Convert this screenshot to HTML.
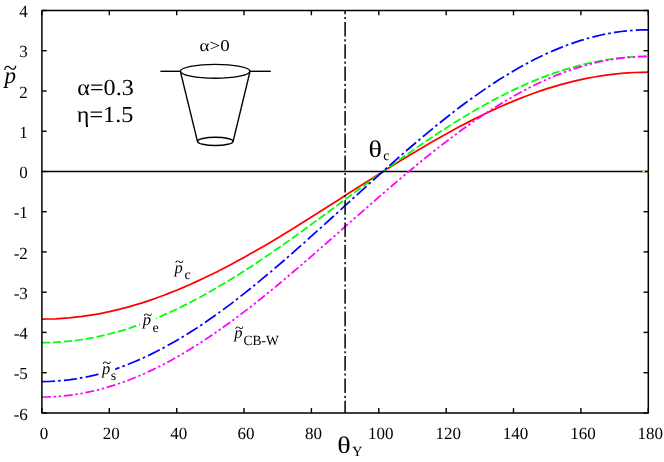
<!DOCTYPE html>
<html><head><meta charset="utf-8">
<style>
html,body{margin:0;padding:0;background:#fff;}
svg{display:block;font-family:"Liberation Serif",serif;}
text{text-rendering:geometricPrecision;}
svg{will-change:transform;}
</style></head><body>
<svg width="664" height="462" viewBox="0 0 664 462">
<!-- curves -->
<g fill="none" stroke-width="1.75">
<path d="M41.9,319.1 L48.6,319.0 L55.4,318.8 L62.1,318.4 L68.9,317.9 L75.6,317.2 L82.3,316.4 L89.1,315.4 L95.8,314.3 L102.5,313.1 L109.3,311.7 L116.0,310.1 L122.8,308.4 L129.5,306.6 L136.2,304.6 L143.0,302.6 L149.7,300.3 L156.4,298.0 L163.2,295.5 L169.9,292.9 L176.7,290.2 L183.4,287.4 L190.1,284.5 L196.9,281.4 L203.6,278.3 L210.3,275.0 L217.1,271.7 L223.8,268.2 L230.6,264.7 L237.3,261.1 L244.0,257.4 L250.8,253.6 L257.5,249.8 L264.2,245.9 L271.0,241.9 L277.7,237.9 L284.5,233.8 L291.2,229.7 L297.9,225.5 L304.7,221.3 L311.4,217.1 L318.1,212.8 L324.9,208.5 L331.6,204.3 L338.4,200.0 L345.1,195.6 L351.8,191.3 L358.6,187.0 L365.3,182.7 L372.1,178.5 L378.8,174.2 L385.5,170.0 L392.3,165.8 L399.0,161.6 L405.7,157.5 L412.5,153.4 L419.2,149.4 L426.0,145.4 L432.7,141.5 L439.4,137.7 L446.2,133.9 L452.9,130.2 L459.6,126.6 L466.4,123.1 L473.1,119.6 L479.9,116.3 L486.6,113.0 L493.3,109.9 L500.1,106.8 L506.8,103.9 L513.5,101.1 L520.3,98.4 L527.0,95.8 L533.8,93.3 L540.5,90.9 L547.2,88.7 L554.0,86.6 L560.7,84.7 L567.4,82.9 L574.2,81.2 L580.9,79.6 L587.7,78.2 L594.4,77.0 L601.1,75.9 L607.9,74.9 L614.6,74.1 L621.3,73.4 L628.1,72.9 L634.8,72.5 L641.6,72.3 L648.3,72.2" stroke="#ff0000"/>
<path d="M41.9,342.6 L48.6,342.6 L55.4,342.3 L62.1,341.9 L68.9,341.2 L75.6,340.5 L82.3,339.5 L89.1,338.4 L95.8,337.1 L102.5,335.6 L109.3,334.0 L116.0,332.2 L122.8,330.3 L129.5,328.2 L136.2,325.9 L143.0,323.5 L149.7,320.9 L156.4,318.2 L163.2,315.3 L169.9,312.3 L176.7,309.2 L183.4,305.9 L190.1,302.5 L196.9,298.9 L203.6,295.3 L210.3,291.5 L217.1,287.6 L223.8,283.6 L230.6,279.6 L237.3,275.4 L244.0,271.1 L250.8,266.7 L257.5,262.3 L264.2,257.7 L271.0,253.1 L277.7,248.5 L284.5,243.8 L291.2,239.0 L297.9,234.1 L304.7,229.3 L311.4,224.4 L318.1,219.4 L324.9,214.5 L331.6,209.5 L338.4,204.5 L345.1,199.5 L351.8,194.5 L358.6,189.5 L365.3,184.6 L372.1,179.6 L378.8,174.7 L385.5,169.8 L392.3,164.9 L399.0,160.1 L405.7,155.3 L412.5,150.6 L419.2,145.9 L426.0,141.3 L432.7,136.8 L439.4,132.3 L446.2,128.0 L452.9,123.7 L459.6,119.5 L466.4,115.4 L473.1,111.4 L479.9,107.5 L486.6,103.8 L493.3,100.1 L500.1,96.6 L506.8,93.2 L513.5,89.9 L520.3,86.8 L527.0,83.7 L533.8,80.9 L540.5,78.2 L547.2,75.6 L554.0,73.2 L560.7,70.9 L567.4,68.8 L574.2,66.8 L580.9,65.0 L587.7,63.4 L594.4,62.0 L601.1,60.7 L607.9,59.5 L614.6,58.6 L621.3,57.8 L628.1,57.2 L634.8,56.8 L641.6,56.5 L648.3,56.4" stroke="#00ff00" stroke-dasharray="8.15 2.87"/>
<path d="M41.9,381.6 L48.6,381.5 L55.4,381.2 L62.1,380.6 L68.9,379.9 L75.6,378.9 L82.3,377.7 L89.1,376.4 L95.8,374.8 L102.5,373.0 L109.3,371.0 L116.0,368.8 L122.8,366.4 L129.5,363.8 L136.2,361.0 L143.0,358.0 L149.7,354.9 L156.4,351.5 L163.2,348.0 L169.9,344.3 L176.7,340.4 L183.4,336.4 L190.1,332.2 L196.9,327.9 L203.6,323.4 L210.3,318.8 L217.1,314.0 L223.8,309.1 L230.6,304.1 L237.3,298.9 L244.0,293.6 L250.8,288.3 L257.5,282.8 L264.2,277.2 L271.0,271.6 L277.7,265.8 L284.5,260.0 L291.2,254.2 L297.9,248.2 L304.7,242.3 L311.4,236.2 L318.1,230.2 L324.9,224.1 L331.6,218.0 L338.4,211.8 L345.1,205.7 L351.8,199.5 L358.6,193.4 L365.3,187.3 L372.1,181.2 L378.8,175.1 L385.5,169.1 L392.3,163.1 L399.0,157.2 L405.7,151.3 L412.5,145.5 L419.2,139.8 L426.0,134.1 L432.7,128.6 L439.4,123.1 L446.2,117.7 L452.9,112.5 L459.6,107.3 L466.4,102.3 L473.1,97.4 L479.9,92.6 L486.6,88.0 L493.3,83.5 L500.1,79.1 L506.8,75.0 L513.5,70.9 L520.3,67.1 L527.0,63.4 L533.8,59.8 L540.5,56.5 L547.2,53.3 L554.0,50.4 L560.7,47.6 L567.4,45.0 L574.2,42.6 L580.9,40.4 L587.7,38.4 L594.4,36.6 L601.1,35.0 L607.9,33.6 L614.6,32.4 L621.3,31.5 L628.1,30.7 L634.8,30.2 L641.6,29.9 L648.3,29.8" stroke="#0000ff" stroke-dasharray="13.1 3.1 2.6 3.23"/>
</g>
<!-- zero line -->
<line x1="41.9" y1="171.5" x2="648.3" y2="171.5" stroke="#000" stroke-width="1.3"/>
<path d="M41.9,397.0 L48.6,396.9 L55.4,396.6 L62.1,396.1 L68.9,395.3 L75.6,394.4 L82.3,393.3 L89.1,391.9 L95.8,390.4 L102.5,388.7 L109.3,386.7 L116.0,384.6 L122.8,382.3 L129.5,379.8 L136.2,377.1 L143.0,374.2 L149.7,371.1 L156.4,367.9 L163.2,364.5 L169.9,360.9 L176.7,357.2 L183.4,353.3 L190.1,349.2 L196.9,345.0 L203.6,340.7 L210.3,336.2 L217.1,331.6 L223.8,326.8 L230.6,321.9 L237.3,317.0 L244.0,311.9 L250.8,306.7 L257.5,301.4 L264.2,296.0 L271.0,290.5 L277.7,285.0 L284.5,279.3 L291.2,273.6 L297.9,267.9 L304.7,262.1 L311.4,256.3 L318.1,250.4 L324.9,244.5 L331.6,238.6 L338.4,232.7 L345.1,226.7 L351.8,220.8 L358.6,214.8 L365.3,208.9 L372.1,203.0 L378.8,197.1 L385.5,191.3 L392.3,185.5 L399.0,179.8 L405.7,174.1 L412.5,168.5 L419.2,162.9 L426.0,157.4 L432.7,152.1 L439.4,146.8 L446.2,141.6 L452.9,136.5 L459.6,131.5 L466.4,126.6 L473.1,121.9 L479.9,117.2 L486.6,112.8 L493.3,108.4 L500.1,104.2 L506.8,100.2 L513.5,96.3 L520.3,92.5 L527.0,88.9 L533.8,85.5 L540.5,82.3 L547.2,79.2 L554.0,76.3 L560.7,73.6 L567.4,71.1 L574.2,68.8 L580.9,66.7 L587.7,64.7 L594.4,63.0 L601.1,61.5 L607.9,60.1 L614.6,59.0 L621.3,58.1 L628.1,57.3 L634.8,56.8 L641.6,56.5 L648.3,56.4" stroke="#ff00ff" fill="none" stroke-width="1.75" stroke-dasharray="9.0 2.7 2.4 2.7 2.4 2.7"/>
<line x1="345.1" y1="10.5" x2="345.1" y2="412.9" stroke="#000" stroke-width="1.5" stroke-dasharray="14.6 2.8 2.1 2.78" stroke-dashoffset="10.88"/>
<!-- axes -->
<g stroke="#000" stroke-width="1.5" fill="none" stroke-linejoin="round">
<rect x="41.9" y="10.5" width="606.4" height="402.4"/>
</g>
<g stroke="#000" stroke-width="1.4">
<line x1="41.9" y1="10.5" x2="46.7" y2="10.5"/>
<line x1="648.3" y1="10.5" x2="643.5" y2="10.5"/>
<line x1="41.9" y1="50.7" x2="46.7" y2="50.7"/>
<line x1="648.3" y1="50.7" x2="643.5" y2="50.7"/>
<line x1="41.9" y1="91.0" x2="46.7" y2="91.0"/>
<line x1="648.3" y1="91.0" x2="643.5" y2="91.0"/>
<line x1="41.9" y1="131.2" x2="46.7" y2="131.2"/>
<line x1="648.3" y1="131.2" x2="643.5" y2="131.2"/>
<line x1="41.9" y1="171.5" x2="46.7" y2="171.5"/>
<line x1="648.3" y1="171.5" x2="643.5" y2="171.5"/>
<line x1="41.9" y1="211.7" x2="46.7" y2="211.7"/>
<line x1="648.3" y1="211.7" x2="643.5" y2="211.7"/>
<line x1="41.9" y1="251.9" x2="46.7" y2="251.9"/>
<line x1="648.3" y1="251.9" x2="643.5" y2="251.9"/>
<line x1="41.9" y1="292.2" x2="46.7" y2="292.2"/>
<line x1="648.3" y1="292.2" x2="643.5" y2="292.2"/>
<line x1="41.9" y1="332.4" x2="46.7" y2="332.4"/>
<line x1="648.3" y1="332.4" x2="643.5" y2="332.4"/>
<line x1="41.9" y1="372.7" x2="46.7" y2="372.7"/>
<line x1="648.3" y1="372.7" x2="643.5" y2="372.7"/>
<line x1="41.9" y1="412.9" x2="46.7" y2="412.9"/>
<line x1="648.3" y1="412.9" x2="643.5" y2="412.9"/>
<line x1="41.9" y1="412.9" x2="41.9" y2="408.1"/>
<line x1="41.9" y1="10.5" x2="41.9" y2="15.3"/>
<line x1="109.3" y1="412.9" x2="109.3" y2="408.1"/>
<line x1="109.3" y1="10.5" x2="109.3" y2="15.3"/>
<line x1="176.7" y1="412.9" x2="176.7" y2="408.1"/>
<line x1="176.7" y1="10.5" x2="176.7" y2="15.3"/>
<line x1="244.0" y1="412.9" x2="244.0" y2="408.1"/>
<line x1="244.0" y1="10.5" x2="244.0" y2="15.3"/>
<line x1="311.4" y1="412.9" x2="311.4" y2="408.1"/>
<line x1="311.4" y1="10.5" x2="311.4" y2="15.3"/>
<line x1="378.8" y1="412.9" x2="378.8" y2="408.1"/>
<line x1="378.8" y1="10.5" x2="378.8" y2="15.3"/>
<line x1="446.2" y1="412.9" x2="446.2" y2="408.1"/>
<line x1="446.2" y1="10.5" x2="446.2" y2="15.3"/>
<line x1="513.5" y1="412.9" x2="513.5" y2="408.1"/>
<line x1="513.5" y1="10.5" x2="513.5" y2="15.3"/>
<line x1="580.9" y1="412.9" x2="580.9" y2="408.1"/>
<line x1="580.9" y1="10.5" x2="580.9" y2="15.3"/>
<line x1="648.3" y1="412.9" x2="648.3" y2="408.1"/>
<line x1="648.3" y1="10.5" x2="648.3" y2="15.3"/>
</g>
<line x1="642.2" y1="171.5" x2="645.0" y2="171.5" stroke="#f2e61e" stroke-width="1.4"/>
<rect x="647.5" y="170.9" width="1.6" height="1.2" fill="#ffee00" opacity="0.25"/>
<g font-size="17px" fill="#000">
<text x="27.8" y="17.1" text-anchor="end">4</text>
<text x="27.8" y="57.3" text-anchor="end">3</text>
<text x="27.8" y="97.6" text-anchor="end">2</text>
<text x="27.8" y="137.8" text-anchor="end">1</text>
<text x="27.8" y="178.1" text-anchor="end">0</text>
<text x="27.8" y="218.3" text-anchor="end">-1</text>
<text x="27.8" y="258.5" text-anchor="end">-2</text>
<text x="27.8" y="298.8" text-anchor="end">-3</text>
<text x="27.8" y="339.0" text-anchor="end">-4</text>
<text x="27.8" y="379.3" text-anchor="end">-5</text>
<text x="27.8" y="419.5" text-anchor="end">-6</text>
<text x="43.9" y="439.2" text-anchor="middle">0</text>
<text x="111.3" y="439.2" text-anchor="middle">20</text>
<text x="178.7" y="439.2" text-anchor="middle">40</text>
<text x="246.0" y="439.2" text-anchor="middle">60</text>
<text x="313.4" y="439.2" text-anchor="middle">80</text>
<text x="380.8" y="439.2" text-anchor="middle">100</text>
<text x="448.2" y="439.2" text-anchor="middle">120</text>
<text x="515.5" y="439.2" text-anchor="middle">140</text>
<text x="582.9" y="439.2" text-anchor="middle">160</text>
<text x="650.3" y="439.2" text-anchor="middle">180</text>
</g>
<!-- cup -->
<g stroke="#000" stroke-width="1.4" fill="none">
<line x1="160.4" y1="71.3" x2="180.4" y2="71.3"/>
<line x1="250" y1="71.3" x2="270.8" y2="71.3"/>
<ellipse cx="215.2" cy="71.3" rx="34.8" ry="6.9"/>
<ellipse cx="215.3" cy="141.4" rx="17.8" ry="4.1"/>
<line x1="180.6" y1="72.3" x2="197.6" y2="141.8"/>
<line x1="249.8" y1="72.3" x2="233" y2="141.8"/>
</g>
<g fill="#000">
<text id="a0" x="199.6" y="51" font-size="16.5px" textLength="30" lengthAdjust="spacingAndGlyphs">α&gt;0</text>
<text id="t1" x="77.3" y="94.5" font-size="23px" textLength="56.5" lengthAdjust="spacingAndGlyphs">α=0.3</text>
<text id="t2" x="76.8" y="121.8" font-size="23px" textLength="56.5" lengthAdjust="spacingAndGlyphs">η=1.5</text>
<text id="thc" transform="translate(368.6,156.6) scale(1.17,1)" font-size="24px">θ</text>
<text id="thcs" x="383.3" y="159.8" font-size="14px">c</text>
<text id="thy" transform="translate(337.3,453) scale(1.17,1)" font-size="24px">θ</text>
<text id="thys" x="352.3" y="456.4" font-size="14px">Y</text>
<text id="yp" x="4.4" y="83" font-size="23px" font-style="italic">p</text>
<text id="ypt" x="10.3" y="76.2" font-size="25px" text-anchor="middle">~</text>
</g>
<!-- curve labels -->
<g fill="#000">
<text x="174.4" y="272.5" font-size="16.5px" font-style="italic">p</text>
<text x="179.4" y="267.3" font-size="16px" text-anchor="middle">~</text>
<text x="184.5" y="279.1" font-size="14px">c</text>
<rect x="140.1" y="308.5" width="16" height="22" fill="#fff"/>
<text x="142.8" y="325.1" font-size="16.5px" font-style="italic">p</text>
<text x="147.8" y="319.9" font-size="16px" text-anchor="middle">~</text>
<text x="152.5" y="331.8" font-size="14px">e</text>
<rect x="99.2" y="357.0" width="16" height="22" fill="#fff"/>
<text x="101.9" y="373.6" font-size="16.5px" font-style="italic">p</text>
<text x="106.9" y="368.4" font-size="16px" text-anchor="middle">~</text>
<text x="110.8" y="380.2" font-size="14px">s</text>
<text x="234.3" y="338.3" font-size="16.5px" font-style="italic">p</text>
<text x="239.3" y="333.1" font-size="16px" text-anchor="middle">~</text>
<text x="243.4" y="345.4" font-size="14px" textLength="35.3" lengthAdjust="spacingAndGlyphs">CB-W</text>
</g>
</svg>
</body></html>
